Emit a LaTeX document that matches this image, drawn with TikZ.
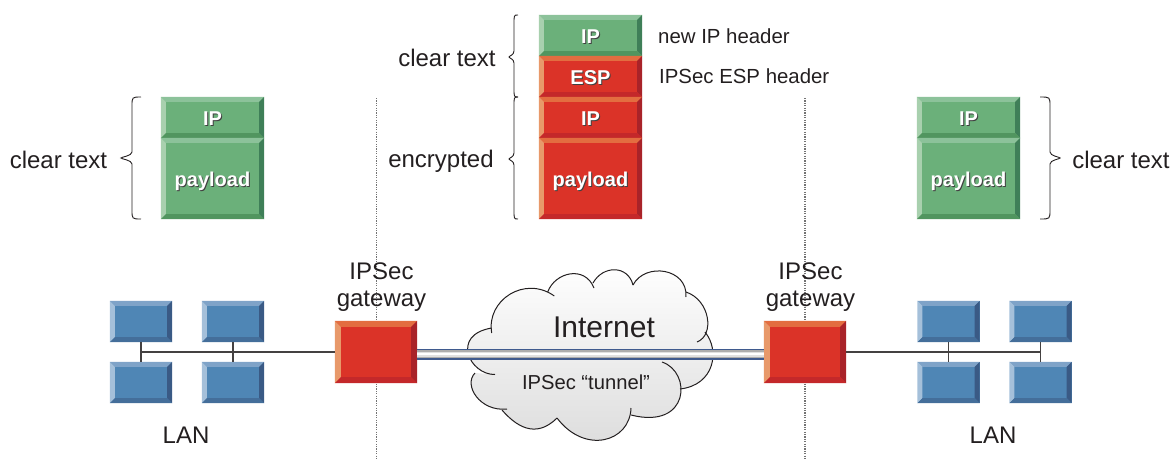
\documentclass[tikz,border=0pt]{standalone}
\usepackage{fontspec}
\setmainfont{Liberation Sans}
\usetikzlibrary{calc}
\definecolor{gF}{HTML}{6BB07A}\definecolor{gT}{HTML}{8CC29A}\definecolor{gL}{HTML}{A8D0AE}\definecolor{gR}{HTML}{3F7F58}\definecolor{gB}{HTML}{51955F}
\definecolor{rF}{HTML}{DB3328}\definecolor{rT}{HTML}{E36D40}\definecolor{rL}{HTML}{E8996A}\definecolor{rR}{HTML}{A92329}\definecolor{rB}{HTML}{C4282A}
\definecolor{bF}{HTML}{4F86B5}\definecolor{bT}{HTML}{7FA3C8}\definecolor{bL}{HTML}{A5C0DA}\definecolor{bR}{HTML}{3A5A85}\definecolor{bB}{HTML}{446E9A}
\definecolor{ink}{HTML}{231F20}
\definecolor{tunEdge}{HTML}{3F5A8E}
\newcommand\shtxt[1]{\leavevmode\raisebox{-7.5pt}[0pt][0pt]{\rlap{\kern1pt\raisebox{-1pt}{\textcolor{black!75}{#1}}}\textcolor{white}{#1}}}
% name, cx, cy, w, h, palette, bevel, text
\newcommand\bevel[8]{%
  \node[inner sep=0pt,minimum width=#4pt,minimum height=#5pt,fill=#6F,font=\fontsize{20}{22}\selectfont\bfseries] (#1) at (#2,#3) {\shtxt{#8}};
  \fill[#6T] (#1.north west)--(#1.north east)--($(#1.north east)+(-#7,#7)$)--($(#1.north west)+(#7,#7)$)--cycle;
  \fill[#6L] (#1.north west)--(#1.south west)--($(#1.south west)+(#7,-#7)$)--($(#1.north west)+(#7,#7)$)--cycle;
  \fill[#6R] (#1.north east)--(#1.south east)--($(#1.south east)+(-#7,-#7)$)--($(#1.north east)+(-#7,#7)$)--cycle;
  \fill[#6B] (#1.south west)--(#1.south east)--($(#1.south east)+(-#7,-#7)$)--($(#1.south west)+(#7,-#7)$)--cycle;
}
% end x, spine x, tip x, top, mid, bottom
\newcommand\curly[6]{%
  \draw[bracestyle] (#1,#4) .. controls (#2,#4) and (#2,#4) .. (#2,#4+9) -- (#2,#5-6) .. controls (#2,#5-2) and (#3,#5-1) .. (#3,#5)
   .. controls (#3,#5+1) and (#2,#5+2) .. (#2,#5+6) -- (#2,#6-9) .. controls (#2,#6) and (#2,#6) .. (#1,#6);
}
\tikzset{
  bracestyle/.style={draw=ink,line width=0.9pt},
  lbl/.style={inner sep=0pt,text=ink,font=\fontsize{24}{27}\selectfont,align=center},
  small/.style={inner sep=0pt,text=ink,font=\fontsize{20.4}{22}\selectfont},
  wire/.style={draw=ink!85,line width=1.2pt},
  sep/.style={draw=black!55,line width=1.2pt,dash pattern=on 1.2pt off 1.2pt},
  lobe/.style={draw=ink,line width=1pt},
}
\begin{document}
\begin{tikzpicture}[x=1pt,y=-1pt]
\useasboundingbox (0,0) rectangle (1171,461);
\coordinate (sepLa) at (376.5,98); \coordinate (sepLb) at (376.5,460);
\coordinate (sepRa) at (805,98); \coordinate (sepRb) at (805,460);
\draw[sep] (sepLa)--(sepLb);
\draw[sep] (sepRa)--(sepRb);

% cloud
\path[top color=white,bottom color=black!14]
 (491.7,333) .. controls (486,300) and (525,275) .. (554.3,296)
 -- (547.7,292) .. controls (555,272) and (585,265) .. (594,288)
 -- (593,283) .. controls (603,265) and (628,265) .. (633,285)
 .. controls (645,262) and (688,268) .. (686,297)
 -- (686,292) .. controls (710,300) and (715,335) .. (697,342)
 -- (705,332) .. controls (720,350) and (715,385) .. (680,389)
 -- (662,362) .. controls (692,372) and (690,430) .. (631,415)
 -- (631,408) .. controls (630,442) and (585,455) .. (557,418)
 .. controls (535,440) and (515,425) .. (502,410)
 -- (507,409) .. controls (480,412) and (463,385) .. (475,373)
 -- (495,374.5) .. controls (470,375) and (450,335) .. (491.7,328)
 -- cycle;
\draw[lobe] (491.7,333) .. controls (486,300) and (525,275) .. (554.3,296);
\draw[lobe] (547.7,292) .. controls (555,272) and (585,265) .. (594,288);
\draw[lobe] (593,283) .. controls (603,265) and (628,265) .. (633,285);
\draw[lobe] (633,285) .. controls (645,262) and (688,268) .. (686,297);
\draw[lobe] (686,292) .. controls (710,300) and (715,335) .. (697,342);
\draw[lobe] (705,332) .. controls (720,350) and (715,385) .. (680,389);
\draw[lobe] (662,362) .. controls (692,372) and (690,430) .. (631,415);
\draw[lobe] (631,408) .. controls (630,442) and (585,455) .. (557,418);
\draw[lobe] (557,418) .. controls (535,440) and (515,425) .. (502,410);
\draw[lobe] (507,409) .. controls (480,412) and (463,385) .. (475,373);
\draw[lobe] (495,374.5) .. controls (470,375) and (450,335) .. (491.7,328);
\node[inner sep=0pt,text=ink,font=\fontsize{30}{33}\selectfont] (inet) at (604,327) {Internet};
\node[inner sep=0pt,text=ink,font=\fontsize{20.2}{22}\selectfont] (tun) at (586,382) {IPSec “tunnel”};

% gateways
\bevel{gwL}{376}{352}{82}{62}{r}{6}{}
\bevel{gwR}{805}{352}{82}{62}{r}{6}{}
\draw[draw=tunEdge,line width=11pt] ([yshift=-2pt]gwL.east)--([yshift=-2pt]gwR.west);
\draw[draw=black!32,line width=7.5pt] ([yshift=-2pt]gwL.east)--([yshift=-2pt]gwR.west);
\draw[draw=black!12,line width=5pt] ([yshift=-2pt]gwL.east)--([yshift=-2pt]gwR.west);
\draw[draw=white,line width=2.5pt] ([yshift=-2pt]gwL.east)--([yshift=-2pt]gwR.west);

% LANs
\bevel{pa}{141}{321.5}{62}{41}{b}{5}{}
\bevel{pb}{233}{321.5}{62}{41}{b}{5}{}
\bevel{pc}{141}{382.5}{62}{41}{b}{5}{}
\bevel{pd}{233}{382.5}{62}{41}{b}{5}{}
\bevel{qa}{948.5}{321.5}{62}{41}{b}{5}{}
\bevel{qb}{1040.5}{321.5}{62}{41}{b}{5}{}
\bevel{qc}{948.5}{382.5}{62}{41}{b}{5}{}
\bevel{qd}{1040.5}{382.5}{62}{41}{b}{5}{}
\draw[wire] (pa.south)--(pc.north);
\draw[wire] (pb.south)--(pd.north);
\draw[wire] (pa.south |- gwL.west)--(gwL.west);
\draw[wire] (qa.south)--(qc.north);
\draw[wire] (qb.south)--(qd.north);
\draw[wire] (gwR.east)--(qb.south |- gwR.east);

% packets
\bevel{lip}{212.5}{117.5}{103}{41}{g}{5}{IP}
\bevel{lpl}{212.5}{178.5}{103}{81}{g}{5}{payload}
\bevel{rip}{968.5}{117.5}{103}{41}{g}{5}{IP}
\bevel{rpl}{968.5}{178.5}{103}{81}{g}{5}{payload}
\bevel{cip}{590.5}{35.5}{103}{41}{g}{5}{IP}
\bevel{cesp}{590.5}{76.5}{103}{41}{r}{5}{ESP}
\bevel{cin}{590.5}{117.5}{103}{41}{r}{5}{IP}
\bevel{cpl}{590.5}{178.5}{103}{81}{r}{5}{payload}

% braces
\curly{141}{132}{121}{97}{158}{219}
\curly{518}{514}{509}{15}{57}{97}
\curly{518}{514}{509}{97}{159}{219}
\curly{1040}{1050}{1060}{97}{158}{219}

% labels
\node[lbl] (t1) at (58.5,160) {clear text};
\node[lbl] (t2) at (447,58) {clear text};
\node[lbl] (t3) at (441,161) {encrypted};
\node[lbl] (t4) at (1121,160) {clear text};
\node[small,anchor=west] (t5) at (658,36.5) {new IP header};
\node[small,anchor=west] (t6) at (659,76) {IPSec ESP header};
\node[lbl] (g1) at (381.5,287) {IPSec\\gateway};
\node[lbl] (g2) at (810.5,287) {IPSec\\gateway};
\node[lbl] (l1) at (186,435) {LAN};
\node[lbl] (l2) at (993,435) {LAN};
\end{tikzpicture}
\end{document}
